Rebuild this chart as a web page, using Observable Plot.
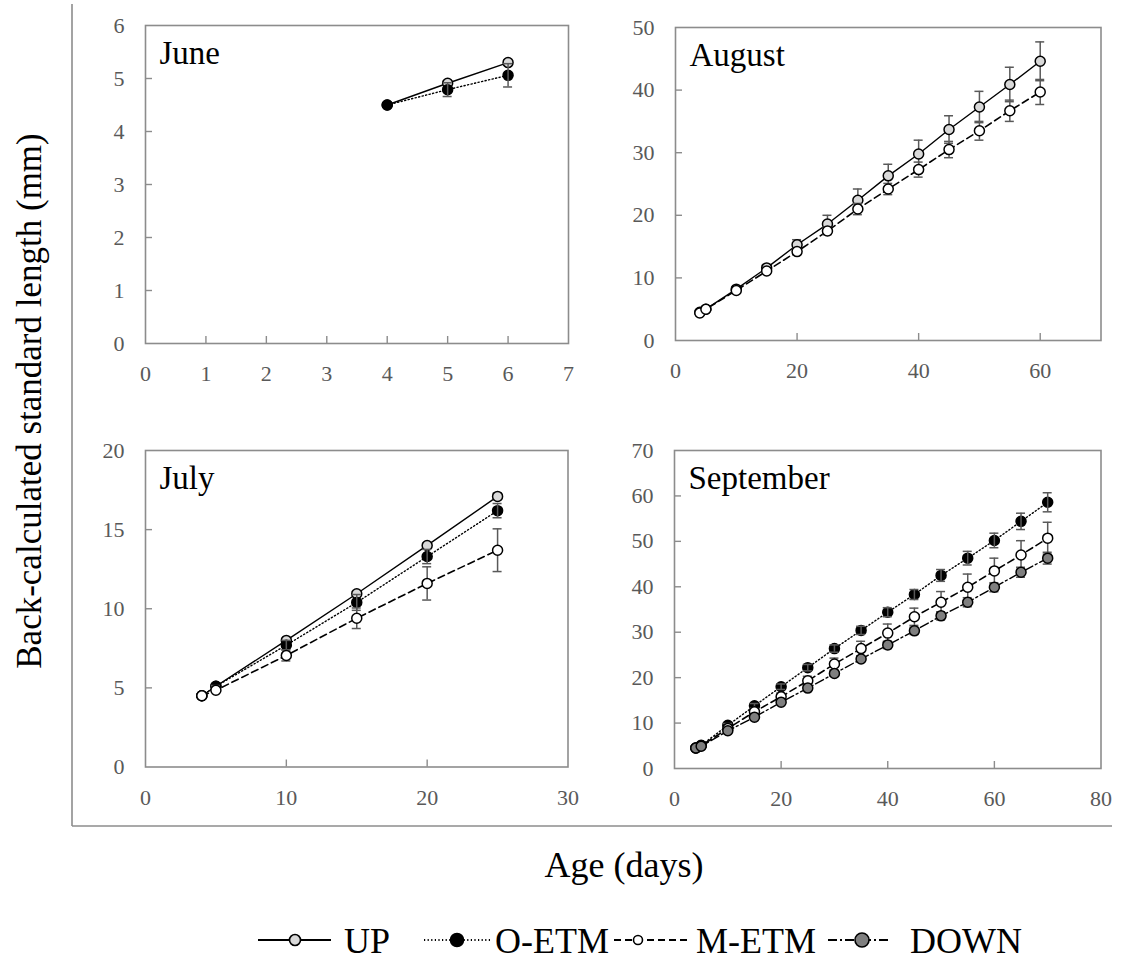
<!DOCTYPE html>
<html>
<head>
<meta charset="utf-8">
<script src="https://cdn.jsdelivr.net/npm/d3@7"></script>
<script src="https://cdn.jsdelivr.net/npm/@observablehq/plot@0.6"></script>
<style>
  html, body { margin: 0; padding: 0; background: #fff; }
  #root { position: relative; width: 1122px; height: 960px; font-family: "Liberation Serif", "Times New Roman", serif; }
  #root svg.panel { position: absolute; background: transparent; overflow: visible; }
  #overlay { position: absolute; left: 0; top: 0; }
  #root text { font-family: "Liberation Serif", "Times New Roman", serif !important; }
</style>
</head>
<body>
<div id="root"></div>
<script>
// ---------------- Data ----------------
const seriesNames = ["UP", "O-ETM", "M-ETM", "DOWN"];

// June
const juneAge = [4, 5, 6];
const juneUP = [4.5, 4.91, 5.3];
const juneUPErr = [0, 0.04, 0.05];
const juneOETM = [4.5, 4.79, 5.06];
const juneOETMErr = [0, 0.13, 0.22];

// July
const julyAge = [4, 5, 10, 15, 20, 25];
const julyUP = [4.5, 5.1, 8.0, 10.95, 14.0, 17.1];
const julyUPErr = [0, 0.05, 0.1, 0.15, 0.15, 0.2];
const julyOETM = [4.5, 5.1, 7.7, 10.4, 13.3, 16.2];
const julyOETMErr = [0, 0.05, 0.3, 0.5, 0.45, 0.45];
const julyMETM = [4.5, 4.85, 7.05, 9.4, 11.6, 13.7];
const julyMETMErr = [0, 0.1, 0.35, 0.65, 1.05, 1.35];

// August
const augAge = [4, 5, 10, 15, 20, 25, 30, 35, 40, 45, 50, 55, 60];
const augUP = [4.5, 5.0, 8.2, 11.6, 15.3, 18.6, 22.4, 26.3, 29.8, 33.7, 37.3, 40.9, 44.6];
const augUPErr = [0, 0.1, 0.3, 0.45, 0.8, 1.4, 1.8, 1.85, 2.2, 2.2, 2.5, 2.75, 3.1];
const augMETM = [4.4, 5.0, 8.0, 11.1, 14.2, 17.5, 21.0, 24.2, 27.3, 30.5, 33.5, 36.7, 39.7];
const augMETMErr = [0, 0.1, 0.3, 0.4, 0.5, 0.6, 0.9, 0.9, 1.2, 1.3, 1.5, 1.7, 2.0];

// September
const septAge = [4, 5, 10, 15, 20, 25, 30, 35, 40, 45, 50, 55, 60, 65, 70];
const septOETM = [4.5, 5.1, 9.5, 13.8, 18.0, 22.2, 26.4, 30.4, 34.4, 38.3, 42.5, 46.3, 50.2, 54.4, 58.6];
const septOETMErr = [0, 0.1, 0.4, 0.5, 0.6, 0.7, 0.8, 0.9, 1.0, 1.1, 1.3, 1.5, 1.6, 1.8, 2.1];
const septMETM = [4.5, 5.0, 8.8, 12.5, 15.8, 19.3, 23.0, 26.4, 29.8, 33.4, 36.6, 39.9, 43.5, 47.0, 50.7];
const septMETMErr = [0, 0.1, 0.4, 0.6, 0.8, 1.0, 1.3, 1.6, 2.0, 1.9, 2.35, 2.9, 2.8, 3.15, 3.5];
const septDOWN = [4.5, 4.9, 8.3, 11.3, 14.6, 17.7, 20.9, 24.1, 27.2, 30.3, 33.6, 36.6, 39.9, 43.2, 46.3];
const septDOWNErr = [0, 0.1, 0.3, 0.4, 0.5, 0.5, 0.6, 0.7, 0.8, 0.8, 0.9, 1.0, 1.0, 1.1, 1.3];

// Tick labels
const juneXTicks = [0, 1, 2, 3, 4, 5, 6, 7];
const juneYTicks = [0, 1, 2, 3, 4, 5, 6];
const julyXTicks = [0, 10, 20, 30];
const julyYTicks = [0, 5, 10, 15, 20];
const augXTicks = [0, 20, 40, 60];
const augYTicks = [0, 10, 20, 30, 40, 50];
const septXTicks = [0, 20, 40, 60, 80];
const septYTicks = [0, 10, 20, 30, 40, 50, 60, 70];

// ---------------- Styles ----------------
const seriesStyle = {
  "UP":    {fill: "#d9d9d9", dash: null,        width: 1.4},
  "O-ETM": {fill: "#000000", dash: "1.2,2.4",   width: 1.4},
  "M-ETM": {fill: "#ffffff", dash: "7,4",       width: 1.6},
  "DOWN":  {fill: "#7f7f7f", dash: "9,3,2,3",   width: 1.4}
};

function rows(age, vals, errs, name) {
  return age.map((a, i) => ({age: a, v: vals[i], e: errs[i], series: name}));
}

const panels = [
  {title: "June", L: 144.5, R: 567.5, T: 25, B: 343, xDomain: [0, 7], yDomain: [0, 6],
   xTicks: juneXTicks, yTicks: juneYTicks,
   series: [rows(juneAge, juneUP, juneUPErr, "UP"), rows(juneAge, juneOETM, juneOETMErr, "O-ETM")]},
  {title: "August", L: 675, R: 1100.5, T: 26.5, B: 339.5, xDomain: [0, 70], yDomain: [0, 50],
   xTicks: augXTicks, yTicks: augYTicks,
   series: [rows(augAge, augUP, augUPErr, "UP"), rows(augAge, augMETM, augMETMErr, "M-ETM")]},
  {title: "July", L: 145, R: 567.5, T: 450, B: 766.5, xDomain: [0, 30], yDomain: [0, 20],
   xTicks: julyXTicks, yTicks: julyYTicks,
   series: [rows(julyAge, julyUP, julyUPErr, "UP"), rows(julyAge, julyOETM, julyOETMErr, "O-ETM"),
            rows(julyAge, julyMETM, julyMETMErr, "M-ETM")]},
  {title: "September", L: 673.5, R: 1100, T: 449.5, B: 767.5, xDomain: [0, 80], yDomain: [0, 70],
   xTicks: septXTicks, yTicks: septYTicks,
   series: [rows(septAge, septOETM, septOETMErr, "O-ETM"), rows(septAge, septMETM, septMETMErr, "M-ETM"),
            rows(septAge, septDOWN, septDOWNErr, "DOWN")]}
];

const root = document.getElementById("root");
const ml = 70, mr = 14, mt = 14, mb = 52;
const FONT = "Liberation Serif";

// Overlay (figure frame lines, axis titles, legend)
const NS = "http://www.w3.org/2000/svg";
const overlay = document.createElementNS(NS, "svg");
overlay.setAttribute("id", "overlay");
overlay.setAttribute("width", 1122);
overlay.setAttribute("height", 960);
root.appendChild(overlay);
function el(tag, attrs, text) {
  const e = document.createElementNS(NS, tag);
  for (const k in attrs) e.setAttribute(k, attrs[k]);
  if (text != null) e.textContent = text;
  overlay.appendChild(e);
  return e;
}
el("line", {x1: 72, y1: 4, x2: 72, y2: 826, stroke: "#8c8c8c", "stroke-width": 1.6});
el("line", {x1: 72, y1: 826, x2: 1112, y2: 826, stroke: "#8c8c8c", "stroke-width": 1.6});
el("text", {transform: "translate(41,401) rotate(-90)", "text-anchor": "middle",
  "font-size": 35, fill: "#000"}, "Back-calculated standard length (mm)");
el("text", {x: 624, y: 877, "text-anchor": "middle", "font-size": 36, fill: "#000"}, "Age (days)");

// Legend
const ly = 940, lb = 953;
function legendSample(x1, x2, cx, name, r) {
  const s = seriesStyle[name];
  const a = {x1, y1: ly, x2, y2: ly, stroke: "#000", "stroke-width": s.width + 0.4};
  if (s.dash) a["stroke-dasharray"] = s.dash;
  el("line", a);
  el("circle", {cx, cy: ly, r, fill: s.fill, stroke: "#000", "stroke-width": 1.6});
}
legendSample(258, 331, 295, "UP", 5.5);
el("text", {x: 344, y: lb, "font-size": 36, fill: "#000"}, seriesNames[0]);
legendSample(424, 492, 457, "O-ETM", 6.5);
el("text", {x: 495, y: lb, "font-size": 36, fill: "#000"}, seriesNames[1]);
legendSample(614, 688, 638, "M-ETM", 4.5);
el("text", {x: 696, y: lb, "font-size": 36, fill: "#000"}, seriesNames[2]);
legendSample(828, 888, 862, "DOWN", 7);
el("text", {x: 910, y: lb, "font-size": 36, fill: "#000"}, seriesNames[3]);

// Panels
for (const p of panels) {
  const pw = p.R - p.L, ph = p.B - p.T;
  const [x0, x1] = p.xDomain, [y0, y1] = p.yDomain;
  const xTickLen = 7 / ph * (y1 - y0);   // length of x ticks in y units
  const yTickLen = 7 / pw * (x1 - x0);   // length of y ticks in x units
  const cap = 4.5 / pw * (x1 - x0);      // half width of error caps in x units

  const marks = [Plot.frame({stroke: "#8c8c8c", strokeWidth: 1.6})];
  marks.push(Plot.ruleX(p.xTicks.filter(t => t > x0 && t < x1), {x: d => d, y1: y0, y2: y0 + xTickLen, stroke: "#8c8c8c", strokeWidth: 1.4}));
  marks.push(Plot.ruleY(p.yTicks.filter(t => t > y0 && t < y1), {y: d => d, x1: x0, x2: x0 + yTickLen, stroke: "#8c8c8c", strokeWidth: 1.4}));
  marks.push(Plot.axisX(p.xTicks, {tickSize: 0, tickPadding: 22, fontSize: 22, fill: "#595959", label: null, tickFormat: d => String(d)}));
  marks.push(Plot.axisY(p.yTicks, {tickSize: 0, tickPadding: 21, fontSize: 22, fill: "#595959", label: null, tickFormat: d => String(d)}));

  for (const s of p.series) {
    const st = seriesStyle[s[0].series];
    marks.push(Plot.line(s, {x: "age", y: "v", stroke: "#000", strokeWidth: st.width, strokeDasharray: st.dash || undefined}));
  }
  function errMarks(s) {
    const d = s.filter(r => r.e > 0);
    return [
      Plot.ruleX(d, {x: "age", y1: r => r.v - r.e, y2: r => r.v + r.e, stroke: "#595959", strokeWidth: 1.5}),
      Plot.ruleY(d, {y: r => r.v + r.e, x1: r => r.age - cap, x2: r => r.age + cap, stroke: "#595959", strokeWidth: 1.5}),
      Plot.ruleY(d, {y: r => r.v - r.e, x1: r => r.age - cap, x2: r => r.age + cap, stroke: "#595959", strokeWidth: 1.5})
    ];
  }
  for (const s of p.series) {
    const name = s[0].series, st = seriesStyle[name];
    if (name !== "O-ETM") marks.push(...errMarks(s));
    marks.push(Plot.dot(s, {x: "age", y: "v", r: 5, fill: st.fill, stroke: "#000", strokeWidth: 1.5}));
    if (name === "O-ETM") marks.push(...errMarks(s));
  }
  marks.push(Plot.text([p.title], {frameAnchor: "top-left", text: d => d, textAnchor: "start", lineAnchor: "top",
    dx: 14, dy: 15, fontSize: 33, fill: "#000"}));

  const chart = Plot.plot({
    width: ml + pw + mr,
    height: mt + ph + mb,
    marginLeft: ml, marginRight: mr, marginTop: mt, marginBottom: mb,
    x: {domain: p.xDomain, axis: null},
    y: {domain: p.yDomain, axis: null},
    style: {fontFamily: FONT, background: "transparent", color: "#595959", overflow: "visible"},
    marks
  });
  chart.classList.add("panel");
  chart.style.left = (p.L - ml) + "px";
  chart.style.top = (p.T - mt) + "px";
  root.appendChild(chart);
}
</script>
</body>
</html>
